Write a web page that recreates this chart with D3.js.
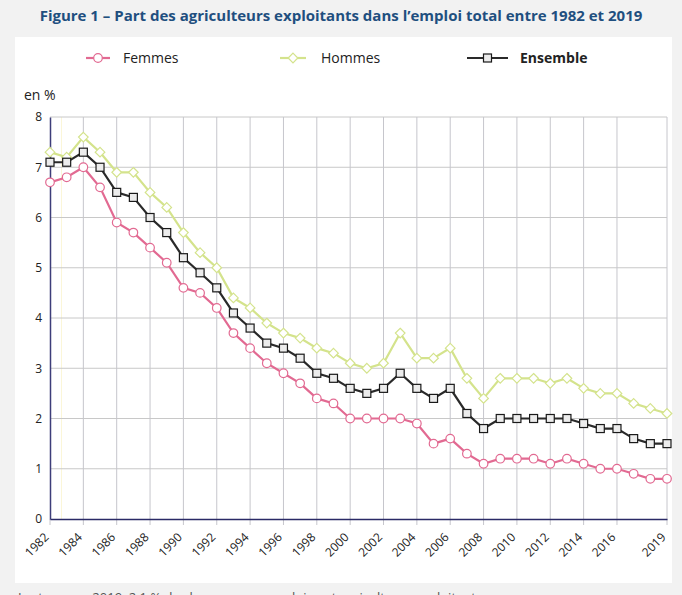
<!DOCTYPE html>
<html><head><meta charset="utf-8">
<script src="https://cdn.jsdelivr.net/npm/d3@7"></script>
<style>
html,body{margin:0;padding:0;background:#f2f2f2;}
svg{display:block;font-family:"Open Sans",sans-serif;}
</style></head>
<body><svg id="c" width="682" height="595"></svg>
<script>
const years = d3.range(1982, 2020);
const femmes = [6.7,6.8,7.0,6.6,5.9,5.7,5.4,5.1,4.6,4.5,4.2,3.7,3.4,3.1,2.9,2.7,2.4,2.3,2.0,2.0,2.0,2.0,1.9,1.5,1.6,1.3,1.1,1.2,1.2,1.2,1.1,1.2,1.1,1.0,1.0,0.9,0.8,0.8];
const hommes = [7.3,7.2,7.6,7.3,6.9,6.9,6.5,6.2,5.7,5.3,5.0,4.4,4.2,3.9,3.7,3.6,3.4,3.3,3.1,3.0,3.1,3.7,3.2,3.2,3.4,2.8,2.4,2.8,2.8,2.8,2.7,2.8,2.6,2.5,2.5,2.3,2.2,2.1];
const ensemble = [7.1,7.1,7.3,7.0,6.5,6.4,6.0,5.7,5.2,4.9,4.6,4.1,3.8,3.5,3.4,3.2,2.9,2.8,2.6,2.5,2.6,2.9,2.6,2.4,2.6,2.1,1.8,2.0,2.0,2.0,2.0,2.0,1.9,1.8,1.8,1.6,1.5,1.5];
const xTicks = [1982,1984,1986,1988,1990,1992,1994,1996,1998,2000,2002,2004,2006,2008,2010,2012,2014,2016,2019];
const yTicks = [0,1,2,3,4,5,6,7,8];
const seriesNames = ["Femmes","Hommes","Ensemble"];

const svg = d3.select("#c");
svg.append("rect").attr("x",15).attr("y",37).attr("width",657).attr("height",546).attr("fill","#fff");

svg.append("text").attr("x",341).attr("y",21).attr("text-anchor","middle")
  .attr("font-size",15).attr("font-weight","bold").attr("fill","#1f4f7f")
  .text("Figure 1 – Part des agriculteurs exploitants dans l’emploi total entre 1982 et 2019");

const x = d3.scaleLinear().domain([1982,2019]).range([50,667]);
const y = d3.scaleLinear().domain([0,8]).range([519,117]);

// grid
const g = svg.append("g");
g.append("line").attr("x1",61.5).attr("x2",61.5).attr("y1",117).attr("y2",519)
  .attr("stroke","#fbf6d8").attr("stroke-width",1);
g.selectAll(".hg").data(yTicks.slice(1)).join("line")
  .attr("x1",50).attr("x2",667).attr("y1",d=>y(d)).attr("y2",d=>y(d))
  .attr("stroke","#c8c8c8").attr("stroke-width",1);
g.selectAll(".vg").data(xTicks).join("line")
  .attr("x1",d=>x(d)).attr("x2",d=>x(d)).attr("y1",d=>d===1982?519:117).attr("y2",525)
  .attr("stroke","#c6c6cc").attr("stroke-width",1);

// axes
const yAxis = svg.append("g").attr("transform","translate(50,0)")
  .call(d3.axisLeft(y).tickValues(yTicks).tickSize(0).tickPadding(8));
yAxis.select(".domain").attr("stroke","#3d3d7a").attr("stroke-width",1.5);
yAxis.selectAll("text").attr("font-size",12).attr("fill","#222").attr("font-family","Open Sans");

const xAxis = svg.append("g").attr("transform","translate(0,519)")
  .call(d3.axisBottom(x).tickValues(xTicks).tickFormat(d3.format("d")).tickSize(0).tickPadding(0));
xAxis.select(".domain").attr("stroke","#2a2a66").attr("stroke-width",1.5);
xAxis.selectAll("text").attr("font-size",12).attr("fill","#222").attr("font-family","Open Sans")
  .attr("text-anchor","end").attr("dy",0)
  .attr("transform","translate(-1,19) rotate(-45)");

svg.append("text").attr("x",24).attr("y",100).attr("font-size",14).attr("fill","#222").text("en %");

const line = d3.line().x((d,i)=>x(years[i])).y(d=>y(d));
const cols = {Femmes:"#e26a92", Hommes:"#d4e38c", Ensemble:"#2a2a2a"};
const data = {Femmes:femmes, Hommes:hommes, Ensemble:ensemble};

function marker(sel, name){
  if(name==="Femmes"){
    sel.append("circle").attr("r",4.3).attr("fill","#fff").attr("stroke",cols[name]).attr("stroke-width",1.2);
  } else if(name==="Hommes"){
    sel.append("path").attr("d","M0,-4.8L4.8,0L0,4.8L-4.8,0Z").attr("fill","#fff").attr("stroke",cols[name]).attr("stroke-width",1.2);
  } else {
    sel.append("rect").attr("x",-4).attr("y",-4).attr("width",8).attr("height",8)
      .attr("fill","#ececec").attr("stroke","#1a1a1a").attr("stroke-width",1.2);
  }
}

seriesNames.forEach(name=>{
  svg.append("path").datum(data[name]).attr("d",line).attr("fill","none")
    .attr("stroke",cols[name]).attr("stroke-width",2.2);
});
seriesNames.forEach(name=>{
  svg.append("g").selectAll("g").data(data[name]).join("g")
    .attr("transform",(d,i)=>`translate(${x(years[i])},${y(d)})`)
    .each(function(){ marker(d3.select(this), name); });
});

// legend
const legX = [[86,110,123],[280,306,321],[467,508,520]];
seriesNames.forEach((name,i)=>{
  const [a,b,t] = legX[i];
  const lg = svg.append("g");
  lg.append("line").attr("x1",a).attr("x2",b).attr("y1",58).attr("y2",58)
    .attr("stroke",cols[name]).attr("stroke-width",2.2);
  marker(lg.append("g").attr("transform",`translate(${(a+b)/2},58)`), name);
  lg.append("text").attr("x",t).attr("y",63).attr("font-size",14).attr("fill","#222")
    .attr("font-weight",name==="Ensemble"?"bold":"normal").text(name);
});

svg.append("text").attr("x",18).attr("y",602).attr("font-size",13).attr("fill","#555")
  .text("Lecture : en 2019, 2,1 % des hommes en emploi sont agriculteurs exploitants.");
</script></body></html>
